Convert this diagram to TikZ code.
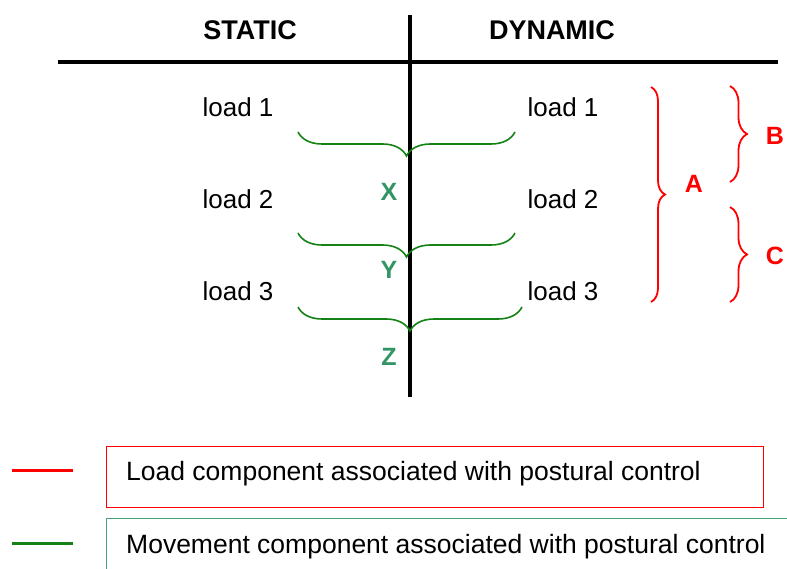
\documentclass[tikz,border=0pt]{standalone}
\usepackage{fontspec}
\setmainfont{Liberation Sans}
\usetikzlibrary{decorations.pathreplacing}
\definecolor{bracegreen}{RGB}{20,130,20}
\definecolor{labgreen}{RGB}{50,150,100}
\definecolor{boxgreen}{RGB}{70,165,120}
\definecolor{myred}{RGB}{255,0,0}
\begin{document}
\begin{tikzpicture}[x=1pt,y=-1pt,
  head/.style={font=\fontsize{27}{32}\selectfont\bfseries, inner sep=0pt},
  loadtxt/.style={font=\fontsize{26}{31}\selectfont, inner sep=0pt},
  glab/.style={font=\fontsize{25}{30}\selectfont\bfseries, text=labgreen, inner sep=0pt},
  rlab/.style={font=\fontsize{25}{30}\selectfont\bfseries, text=myred, inner sep=0pt},
  gbrace/.style={draw=bracegreen, line width=1.6pt, decorate, decoration={brace, amplitude=24pt, aspect=0.5}},
  rbrace/.style={draw=myred, line width=1.8pt, decorate, decoration={brace, amplitude=#1}},
  axis/.style={line width=4pt},
  legtxt/.style={font=\fontsize{26.5}{31}\selectfont, inner sep=0pt, anchor=west}
]
\useasboundingbox (0,0) rectangle (787,569);
% axes
\coordinate (vt) at (410,15);
\coordinate (vb) at (410,397);
\coordinate (hl) at (58,62);
\coordinate (hr) at (778,62);
\draw[axis] (vt) -- (vb);
\draw[axis] (hl) -- (hr);
\node[head] (static) at (250,30) {STATIC};
\node[head] (dynamic) at (552,30) {DYNAMIC};
% loads
\node[loadtxt] (sl1) at (238,107) {load 1};
\node[loadtxt] (sl2) at (238,199) {load 2};
\node[loadtxt] (sl3) at (238,291) {load 3};
\node[loadtxt] (dl1) at (563,107) {load 1};
\node[loadtxt] (dl2) at (563,199) {load 2};
\node[loadtxt] (dl3) at (563,291) {load 3};
% green braces
\coordinate (g1a) at (298,132); \coordinate (g1b) at (515,132);
\coordinate (g2a) at (298,233); \coordinate (g2b) at (515,233);
\coordinate (g3a) at (298,307); \coordinate (g3b) at (522,307);
\draw[gbrace] (g1b) -- (g1a);
\draw[gbrace] (g2b) -- (g2a);
\draw[gbrace] (g3b) -- (g3a);
\node[glab] (X) at (389,192) {X};
\node[glab] (Y) at (389,270) {Y};
\node[glab] (Z) at (389,357) {Z};
% red braces
\coordinate (aa) at (651,87); \coordinate (ab) at (651,302);
\coordinate (ba) at (730,86); \coordinate (bb) at (730,182);
\coordinate (ca) at (730,207); \coordinate (cb) at (730,302);
\draw[rbrace=14pt] (aa) -- (ab);
\draw[rbrace=17pt] (ba) -- (bb);
\draw[rbrace=17pt] (ca) -- (cb);
\node[rlab] (A) at (694,184) {A};
\node[rlab] (B) at (775,136) {B};
\node[rlab] (C) at (775,256) {C};
% legend
\coordinate (r1) at (12,470); \coordinate (r2) at (73,470);
\coordinate (gl1) at (12,543); \coordinate (gl2) at (73,543);
\draw[myred, line width=3pt] (r1) -- (r2);
\draw[bracegreen, line width=3pt] (gl1) -- (gl2);
\node[draw=myred, line width=1.4pt, minimum width=657pt, minimum height=61pt, anchor=north west, inner sep=0pt] (lbox) at (106,446) {};
\node[draw=boxgreen, line width=1.4pt, minimum width=700pt, minimum height=70pt, anchor=north west, inner sep=0pt] (mbox) at (106,518) {};
\node[legtxt] (ltxt) at (126,474) {Load component associated with postural control};
\node[legtxt] (mtxt) at (126,547) {Movement component associated with postural control};
\end{tikzpicture}
\end{document}
